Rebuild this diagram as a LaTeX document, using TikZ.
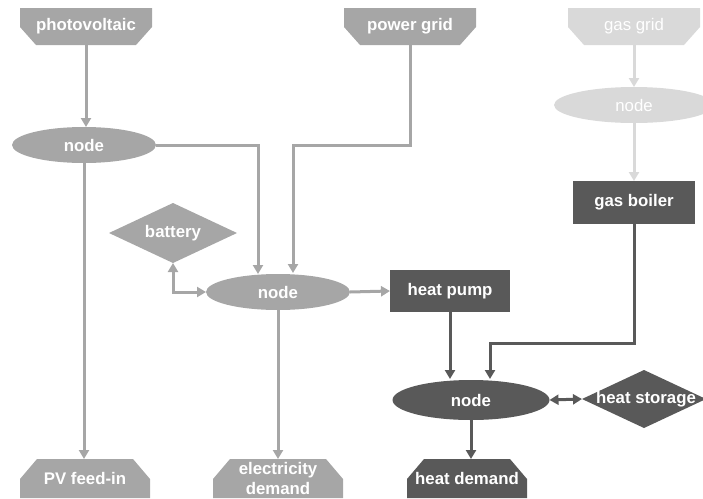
\documentclass[tikz,border=0pt]{standalone}
\usepackage{fontspec}
\setmainfont{Liberation Sans}
\usetikzlibrary{shapes.geometric,arrows.meta}
\definecolor{mid}{HTML}{A6A6A6}
\definecolor{dark}{HTML}{595959}
\definecolor{light}{HTML}{D9D9D9}
\begin{document}
\begin{tikzpicture}[x=1pt,y=-1pt,
  every node/.style={text=white,font=\fontsize{16.8}{20}\selectfont\bfseries,inner sep=0pt,outer sep=0pt},
  src/.style={rectangle,minimum width=132pt,minimum height=37pt,
    path picture={\fill[#1] (path picture bounding box.north west) -- (path picture bounding box.north east)
      -- ([yshift=18pt]path picture bounding box.south east) -- ([xshift=-16pt]path picture bounding box.south east)
      -- ([xshift=16pt]path picture bounding box.south west) -- ([yshift=18pt]path picture bounding box.south west) -- cycle;}},
  sink/.style={rectangle,minimum width=130pt,minimum height=39pt,align=center,
    path picture={\fill[#1] (path picture bounding box.south west) -- (path picture bounding box.south east)
      -- ([yshift=-20pt]path picture bounding box.north east) -- ([xshift=-17pt]path picture bounding box.north east)
      -- ([xshift=17pt]path picture bounding box.north west) -- ([yshift=-20pt]path picture bounding box.north west) -- cycle;}},
  hub/.style={ellipse,minimum width=144pt,minimum height=36pt},
  store/.style={diamond,minimum width=126pt,minimum height=58pt},
  conv/.style={rectangle,minimum width=120pt,minimum height=42pt},
  flow/.style={line width=3pt,-{Triangle[length=9pt,width=10pt]}},
  bflow/.style={line width=3pt,{Triangle[length=9pt,width=10pt]}-{Triangle[length=9pt,width=10pt]}}
]
\useasboundingbox (0,0) rectangle (703,498);
% sources
\node[src=mid] (pv) at (86,26.5) {photovoltaic};
\node[src=mid] (pg) at (410,26.5) {power grid};
\node[src=light,font=\fontsize{16.8}{20}\selectfont] (gg) at (634,26.5) {gas grid};
% hubs
\node[hub,fill=mid] (n1) at (84,145) {node};
\node[hub,fill=light,minimum width=160pt,font=\fontsize{16.8}{20}\selectfont] (ng) at (634,105) {node};
\node[hub,fill=mid] (nm) at (278,292) {node};
\node[hub,fill=dark,minimum width=157pt,minimum height=40pt] (nh) at (471,400) {node};
% storage
\node[store,fill=mid,minimum width=128pt,minimum height=60pt] (bat) at (173,233) {\makebox[0pt]{battery}};
\node[store,fill=dark,minimum width=124pt] (hs) at (644,399) {\makebox[0pt]{\hspace{4pt}heat storage}};
% converters
\node[conv,fill=dark] (hp) at (450,291) {heat pump};
\node[conv,fill=dark,minimum width=122pt,minimum height=43pt] (gb) at (634,202.5) {gas boiler};
% sinks
\node[sink=mid] (pvf) at (85,478.5) {PV feed-in};
\node[sink=mid] (ed) at (278,478.5) {electricity\\demand};
\node[sink=dark,minimum width=120pt] (hd) at (467,478.5) {heat demand};
% junctions
\coordinate (jN1) at (258,145);
\coordinate (jPG) at (293,145);
\coordinate (jGB) at (490,343);
% electricity flows
\draw[flow,mid] (pv.south) -- (pv.south |- n1.north);
\draw[flow,mid] (n1.south) -- (n1.south |- pvf.north);
\draw[flow,mid] (n1.east) -- (jN1) -- (jN1 |- nm.north);
\draw[flow,mid] (pg.south) |- (jPG) -- ([yshift=1pt]jPG |- nm.north);
\draw[bflow,mid] (bat.south) |- (nm.west);
\draw[flow,mid] (nm.east) -- (hp.west);
\draw[flow,mid] (nm.south) -- (nm.south |- ed.north);
% gas flows
\draw[flow,light] (gg.south) -- (ng.north);
\draw[flow,light] (ng.south) -- (gb.north);
% heat flows
\draw[flow,dark] (gb.south) |- (jGB) -- ([yshift=1pt]jGB |- nh.north);
\draw[flow,dark] (hp.south) -- ([yshift=1pt]hp.south |- nh.north);
\draw[bflow,dark] (nh.east) -- (hs.west);
\draw[flow,dark] (nh.south) -- (nh.south |- hd.north);
\end{tikzpicture}
\end{document}
